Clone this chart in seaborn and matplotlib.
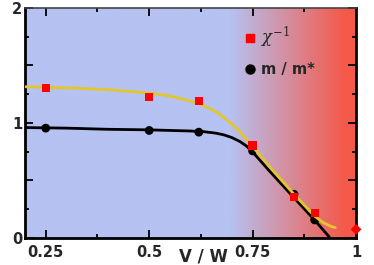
import numpy as np
import pandas as pd
import matplotlib
matplotlib.use("Agg")
import matplotlib.pyplot as plt
import seaborn as sns
from matplotlib.colors import LinearSegmentedColormap
from matplotlib.lines import Line2D
from matplotlib.ticker import MultipleLocator, FuncFormatter

# data
vw_pts = [0.25, 0.5, 0.62, 0.75, 0.85, 0.9]
chi_inv = [1.305, 1.225, 1.19, 0.805, 0.355, 0.22]
m_ratio = [0.955, 0.935, 0.92, 0.757, 0.38, 0.157]
diamond_x = [1.0]
diamond_y = [0.075]

# smooth guide curves
yel_x = [0.2, 0.3, 0.4, 0.5, 0.55, 0.6, 0.63, 0.66, 0.68, 0.7, 0.72, 0.75, 0.79, 0.85, 0.9, 0.92, 0.94, 0.95]
yel_y = [1.315, 1.305, 1.29, 1.26, 1.235, 1.19, 1.155, 1.10, 1.05, 0.99, 0.92, 0.795, 0.625, 0.38, 0.19, 0.135, 0.10, 0.09]
blk_x = [0.2, 0.3, 0.4, 0.5, 0.6, 0.63, 0.66, 0.68, 0.70, 0.72, 0.735, 0.75, 0.79, 0.85, 0.9, 0.935]
blk_y = [0.96, 0.955, 0.945, 0.94, 0.93, 0.925, 0.912, 0.897, 0.873, 0.837, 0.80, 0.748, 0.585, 0.35, 0.155, 0.01]

sns.set_style("ticks")
plt.rcParams['font.family'] = ['DejaVu Sans']
plt.rcParams['mathtext.fontset'] = 'dejavuserif'

fig = plt.figure(figsize=(3.74, 2.65), dpi=100)
ax = fig.add_axes([0.067, 0.102, 0.885, 0.868])

# background gradient blue -> red
blue = '#b5c2f2'
red = '#f5594a'
cmap = LinearSegmentedColormap.from_list('bg', [(0, blue), (0.62, blue), (0.97, red), (1.0, red)])
grad = np.linspace(0, 1, 400).reshape(1, -1)
ax.imshow(grad, cmap=cmap, extent=[0.2, 1.0, 0, 2], aspect='auto', zorder=0)

sns.lineplot(x=yel_x, y=yel_y, color='#e3c62a', lw=2, ax=ax, zorder=3)
sns.lineplot(x=blk_x, y=blk_y, color='black', lw=2, ax=ax, zorder=2)
sns.scatterplot(x=vw_pts, y=chi_inv, marker='s', s=36, color='#ff0000', edgecolor='none', ax=ax, zorder=4)
sns.scatterplot(x=vw_pts, y=m_ratio, marker='o', s=40, color='black', edgecolor='none', ax=ax, zorder=2.5)
ax.scatter(diamond_x, diamond_y, marker='D', s=30, color='#ff0000', edgecolor='none', zorder=6, clip_on=False)

ax.set_xlim(0.2, 1.0)
ax.set_ylim(0, 2)

ax.xaxis.set_major_locator(MultipleLocator(0.25))
ax.xaxis.set_minor_locator(MultipleLocator(0.125))
ax.yaxis.set_major_locator(MultipleLocator(0.5))
ax.yaxis.set_minor_locator(MultipleLocator(0.25))
ax.xaxis.set_major_formatter(FuncFormatter(lambda v, p: ('%g' % v)))
ax.yaxis.set_major_formatter(FuncFormatter(lambda v, p: ('%d' % v) if abs(v - round(v)) < 1e-6 else ''))

ax.tick_params(which='both', direction='in', top=True, right=True, width=1.3, color='black')
ax.tick_params(which='major', length=5.5)
ax.tick_params(which='minor', length=3)
ax.tick_params(axis='x', which='major', pad=5)
ax.tick_params(axis='y', which='major', pad=2)
for lab in ax.get_xticklabels() + ax.get_yticklabels():
    lab.set_fontweight('bold')
    lab.set_fontsize(10.5)

for side in ['left', 'right', 'bottom']:
    ax.spines[side].set_linewidth(2)
    ax.spines[side].set_color('black')
ax.spines['top'].set_linewidth(1.2)
ax.spines['top'].set_color('#444444')

ax.set_xlabel('V / W', fontsize=12, fontweight='bold')
ax.xaxis.set_label_coords(0.538, -0.04)
ax.set_ylabel('')

handles = [Line2D([], [], marker='s', ls='none', color='#ff0000', markersize=6),
           Line2D([], [], marker='o', ls='none', color='black', markersize=6.5)]
leg = ax.legend(handles, [r'$\chi^{-1}$', 'm / m*'], loc='upper left',
                bbox_to_anchor=(0.615, 0.985), frameon=False, labelspacing=0.85,
                handletextpad=0.1, handlelength=1.2, fontsize=10.5)
leg.get_texts()[1].set_fontweight('bold')
leg.get_texts()[0].set_fontsize(12)

fig.savefig('out.png', dpi=100)
